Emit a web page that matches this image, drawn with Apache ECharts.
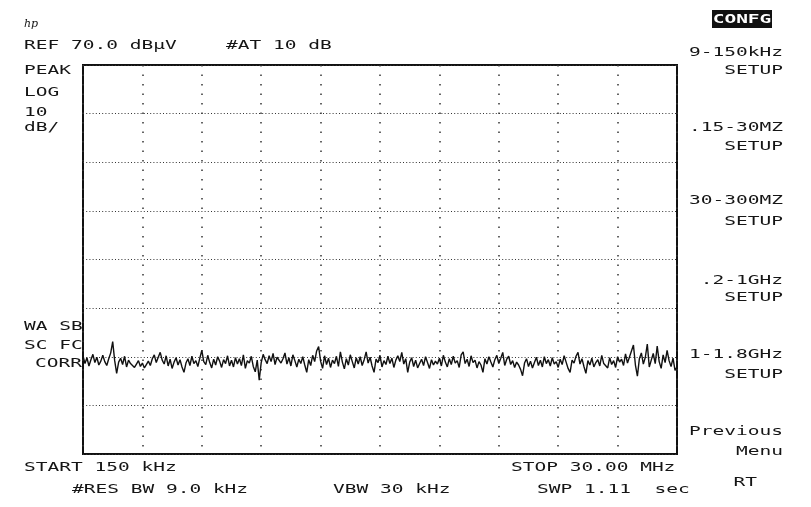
<!DOCTYPE html>
<html>
<head>
<meta charset="utf-8">
<script src="https://cdn.jsdelivr.net/npm/echarts@6/dist/echarts.min.js"></script>
<style>
  html, body { margin: 0; padding: 0; background: #fff; }
  #main { width: 811px; height: 507px; }
</style>
</head>
<body>
<div id="main"></div>
<script>
// trace, dBuV per sweep point (301 points, 150 kHz .. 30 MHz)
var trace = [
  10.2, 8.6, 9.8, 8.1, 9.4, 10.5, 8.8, 9.9, 8.3, 9.1, 10.3, 9.0, 8.2, 9.6, 10.8, 13.1, 9.2, 6.6, 8.9, 9.7,
  8.4, 10.1, 7.9, 9.3, 8.6, 9.0, 7.8, 8.5, 9.2, 8.0, 8.7, 7.7, 8.4, 9.1, 8.2, 9.6, 10.4, 8.8, 9.9, 10.9,
  9.3, 8.5, 10.2, 8.1, 9.5, 7.6, 8.9, 9.8, 8.3, 9.4, 7.9, 6.8, 8.7, 9.6, 8.2, 10.1, 8.6, 9.2, 8.0, 9.7,
  11.3, 9.0, 8.4, 10.3, 8.8, 7.7, 9.5, 8.3, 10.0, 9.1, 7.8, 9.4, 8.6, 10.2, 8.1, 9.3, 7.9, 9.8, 8.5, 9.6,
  8.2, 10.4, 7.6, 9.2, 8.7, 10.1, 8.0, 6.9, 9.3, 5.2, 8.8, 10.5, 9.4, 8.6, 10.2, 9.0, 10.7, 8.4, 9.9, 10.3,
  8.7, 9.6, 10.8, 8.5, 9.8, 8.1, 10.4, 9.2, 7.9, 9.5, 8.6, 10.0, 8.3, 6.8, 9.4, 8.2, 10.3, 9.0, 11.2, 12.1,
  9.1, 7.6, 10.2, 8.4, 9.7, 7.8, 9.3, 8.6, 10.1, 8.0, 11.0, 8.9, 7.5, 9.6, 8.3, 10.4, 9.0, 7.7, 9.8, 8.5,
  10.0, 8.2, 9.4, 11.0, 8.7, 9.9, 8.1, 6.8, 9.5, 8.8, 10.3, 7.9, 9.2, 8.4, 10.1, 8.6, 9.7, 7.8, 9.3, 10.2,
  9.0, 10.9, 8.5, 9.6, 6.8, 8.9, 9.8, 8.0, 9.3, 7.7, 8.6, 9.5, 8.2, 10.0, 8.8, 7.6, 9.4, 8.3, 9.1, 8.5,
  9.7, 8.1, 10.3, 8.9, 7.9, 9.6, 8.4, 10.1, 8.7, 9.2, 7.8, 10.4, 11.0, 8.6, 9.5, 8.0, 10.2, 8.8, 9.3, 7.7,
  9.0, 8.3, 6.8, 9.6, 8.5, 10.0, 8.9, 7.9, 9.4, 10.3, 8.6, 9.7, 10.9, 8.2, 9.5, 10.1, 8.4, 9.2, 7.8, 8.9,
  8.3, 7.4, 6.1, 8.7, 9.6, 8.0, 9.1, 7.7, 8.8, 9.9, 8.2, 9.3, 7.9, 10.0, 8.6, 9.4, 8.1, 9.8, 8.5, 9.0,
  7.8, 9.5, 8.4, 10.2, 8.9, 7.6, 6.8, 9.3, 8.7, 10.1, 10.9, 8.5, 9.6, 8.0, 6.6, 9.2, 8.3, 9.7, 7.9, 8.8,
  9.4, 8.1, 10.3, 8.6, 9.0, 7.7, 9.8, 8.4, 9.2, 7.8, 10.0, 8.9, 9.5, 8.2, 10.6, 8.7, 9.1, 11.2, 12.4, 8.3,
  6.0, 9.6, 10.8, 8.5, 9.9, 12.6, 7.9, 9.3, 10.7, 8.6, 12.2, 9.0, 7.6, 10.4, 8.8, 11.3, 9.2, 8.0, 9.7, 7.2,
  7.9
];

var refLevel = 70;   // top of screen, dBuV
var dbPerDiv = 10;
var divsY = 8;
var divsX = 10;

var myChart = echarts.init(document.getElementById('main'));

var FONT = '13px "DejaVu Sans Mono", "Liberation Mono", monospace';
var INK = '#151515';

// screen annotation text, stretched to the analyzer's wide character pitch
function label(text, x, y, align, extra) {
  var el = {
    type: 'text',
    x: x,
    y: y,
    scaleX: 1.5,
    z: 100,
    style: {
      text: text,
      font: FONT,
      fill: INK,
      align: align || 'left',
      textAlign: align || 'left',
      verticalAlign: 'middle',
      textVerticalAlign: 'middle'
    }
  };
  if (extra) {
    for (var k in extra) el.style[k] = extra[k];
  }
  return el;
}

var points = trace.map(function (v, i) { return [i, v]; });

myChart.setOption({
  backgroundColor: '#ffffff',
  animation: false,
  grid: {
    left: 83,
    top: 65,
    width: 594,
    height: 389,
    show: true,
    borderColor: '#111',
    borderWidth: 2,
    backgroundColor: 'transparent'
  },
  xAxis: {
    type: 'value',
    min: 0,
    max: trace.length - 1,
    interval: (trace.length - 1) / divsX,
    axisLine: { show: false },
    axisTick: { show: false },
    axisLabel: { show: false },
    splitLine: {
      show: true,
      lineStyle: { color: '#333', width: 1.5, type: [1.5, 8] }
    }
  },
  yAxis: {
    type: 'value',
    min: refLevel - dbPerDiv * divsY,
    max: refLevel,
    interval: dbPerDiv,
    axisLine: { show: false },
    axisTick: { show: false },
    axisLabel: { show: false },
    splitLine: {
      show: true,
      lineStyle: { color: '#333', width: 1, type: [1, 2.2] }
    }
  },
  series: [
    {
      type: 'line',
      data: points,
      showSymbol: false,
      symbol: 'none',
      lineStyle: { color: '#111', width: 1.4 },
      z: 10
    }
  ],
  graphic: [
    // hp logo
    { type: 'text', x: 24, y: 24, z: 100,
      style: { text: 'hp', font: 'italic 11px "DejaVu Serif", serif', fill: INK, verticalAlign: 'middle', textVerticalAlign: 'middle' } },
    label('REF 70.0 dB\u00b5V', 24, 46),
    label('#AT 10 dB', 226, 46),
    label('PEAK', 24, 71),
    label('LOG', 24, 93),
    label('10', 24, 113),
    label('dB/', 24, 128),
    label('WA SB', 24, 327),
    label('SC FC', 24, 346),
    label('CORR', 82, 364, 'right'),
    label('START 150 kHz', 24, 468),
    label('#RES BW 9.0 kHz', 72, 490),
    label('VBW 30 kHz', 333, 490),
    label('STOP 30.00 MHz', 511, 468),
    label('SWP 1.11  sec', 537, 490),
    // softkey column
    { type: 'rect', shape: { x: 712, y: 10, width: 60, height: 18 }, style: { fill: '#111' }, z: 99 },
    label('CONFG', 742, 19.5, 'center', { fill: '#fff', font: 'bold ' + FONT }),
    label('9-150kHz', 783, 53, 'right'),
    label('SETUP', 783, 71, 'right'),
    label('.15-30MZ', 783, 128, 'right'),
    label('SETUP', 783, 147, 'right'),
    label('30-300MZ', 783, 201, 'right'),
    label('SETUP', 783, 222, 'right'),
    label('.2-1GHz', 783, 281, 'right'),
    label('SETUP', 783, 298, 'right'),
    label('1-1.8GHz', 783, 355, 'right'),
    label('SETUP', 783, 375, 'right'),
    label('Previous', 783, 432, 'right'),
    label('Menu', 783, 452, 'right'),
    label('RT', 757, 483, 'right')
  ]
});
</script>
</body>
</html>
